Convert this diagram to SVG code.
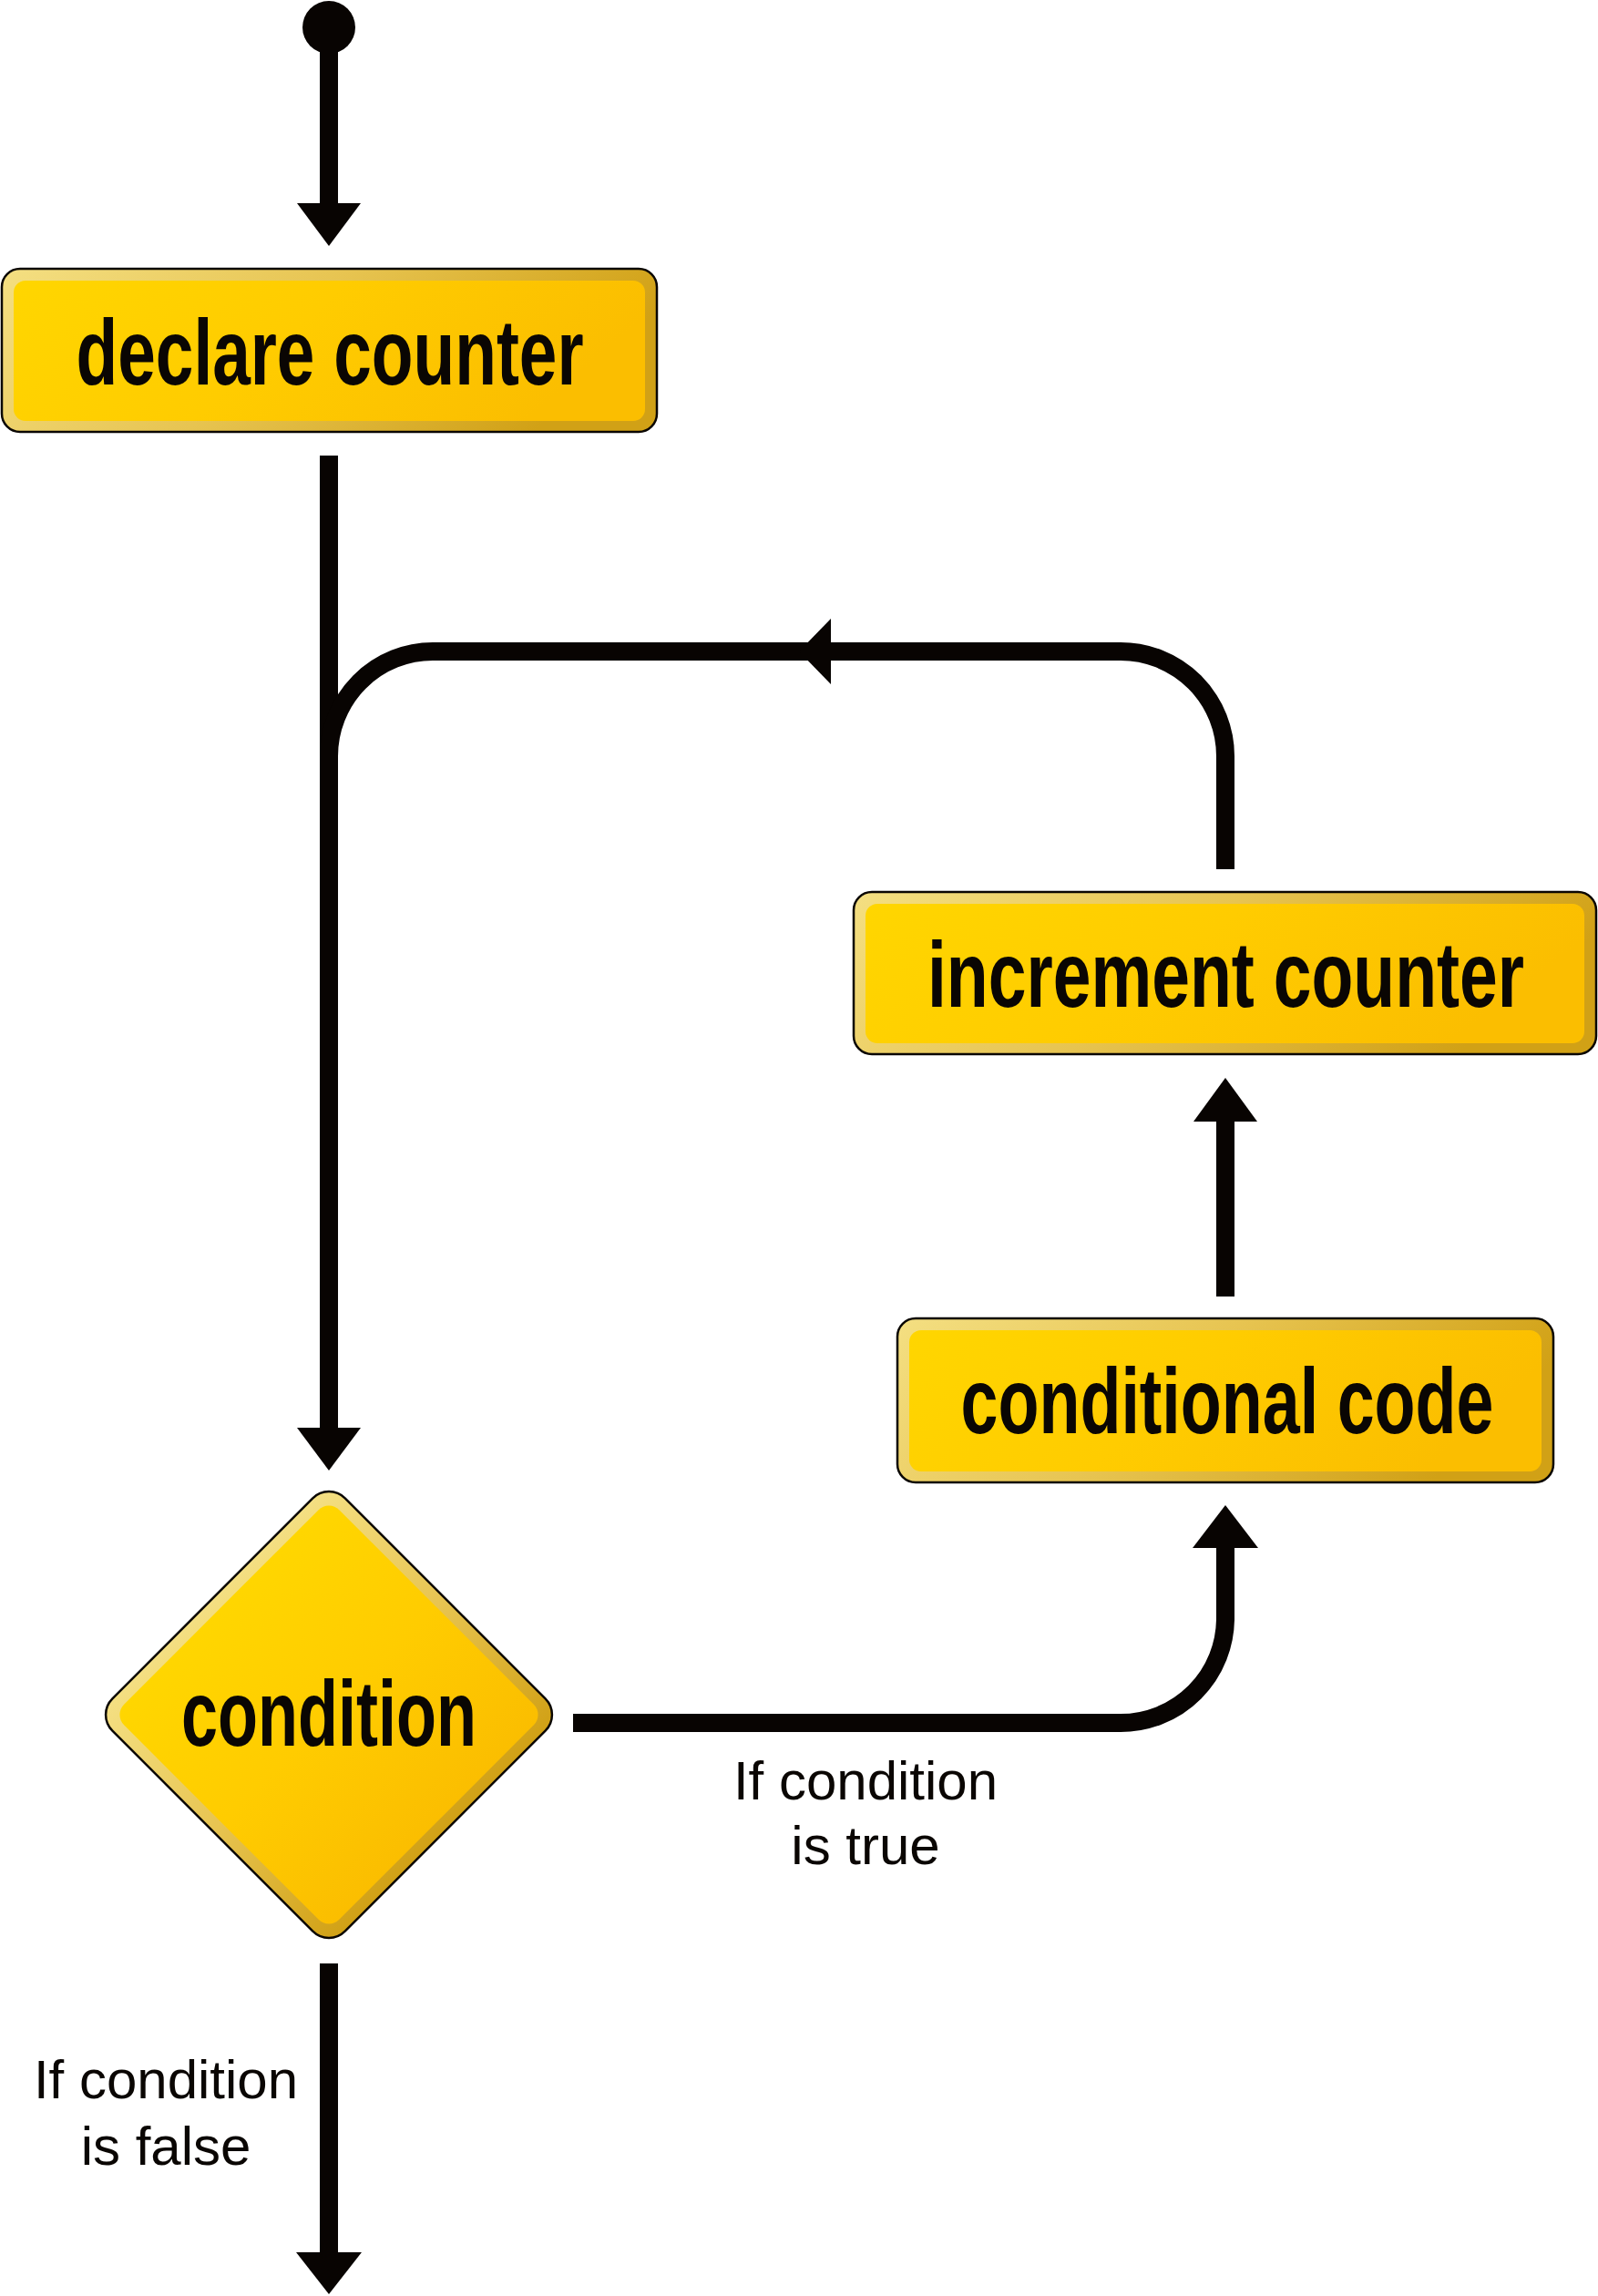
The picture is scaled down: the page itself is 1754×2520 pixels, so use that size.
<svg xmlns="http://www.w3.org/2000/svg" width="1754" height="2520" viewBox="0 0 1754 2520">
  <defs>
    <linearGradient id="bevel" x1="0" y1="0" x2="1" y2="0.25">
      <stop offset="0" stop-color="#F4DF82"/>
      <stop offset="0.5" stop-color="#E7C451"/>
      <stop offset="1" stop-color="#D1A116"/>
    </linearGradient>
    <linearGradient id="face" x1="0" y1="0" x2="1" y2="0.25">
      <stop offset="0" stop-color="#FFD600"/>
      <stop offset="0.5" stop-color="#FFCC00"/>
      <stop offset="1" stop-color="#FBBE00"/>
    </linearGradient>
    <linearGradient id="dbevel" x1="0" y1="0" x2="1" y2="0">
      <stop offset="0" stop-color="#F4DF82"/>
      <stop offset="0.5" stop-color="#E7C451"/>
      <stop offset="1" stop-color="#D1A116"/>
    </linearGradient>
    <linearGradient id="dface" x1="0" y1="0" x2="1" y2="0">
      <stop offset="0" stop-color="#FFD600"/>
      <stop offset="0.5" stop-color="#FFCC00"/>
      <stop offset="1" stop-color="#FBBE00"/>
    </linearGradient>
  </defs>
  <style>
    .outer { fill: url(#bevel); stroke: #0a0603; stroke-width: 2.5; }
    .inner { fill: url(#face); }
    .douter { fill: url(#dbevel); stroke: #0a0603; stroke-width: 2.5; }
    .dinner { fill: url(#dface); }
    .node-text { font-family: "Liberation Sans", "DejaVu Sans", sans-serif; font-weight: bold; font-size: 75px; fill: #0a0603; text-anchor: middle; }
    .label { font-family: "Liberation Sans", Arial, sans-serif; font-size: 60px; fill: #0a0603; text-anchor: middle; }
    .wire { fill: none; stroke: #080402; stroke-width: 20; }
    .head { fill: #080402; }
  </style>
  <rect width="1754" height="2520" fill="#ffffff"/>

  <g id="connectors">
    <circle id="start" cx="361" cy="30" r="29" class="head"/>
    <line class="wire" x1="361" y1="40" x2="361" y2="225"/>
    <polygon class="head" points="326,223 396,223 361,270"/>

    <line class="wire" x1="361" y1="500" x2="361" y2="1569"/>
    <polygon class="head" points="326,1567 396,1567 361,1614"/>

    <path class="wire" d="M629,1891 H1230 A115,115 0 0 0 1345,1776 V1697"/>
    <polygon class="head" points="1309,1699 1381,1699 1345,1652"/>

    <line class="wire" x1="1345" y1="1423" x2="1345" y2="1229"/>
    <polygon class="head" points="1310,1231 1380,1231 1345,1183"/>

    <path class="wire" d="M1345,954 V830 A115,115 0 0 0 1230,715 H475 A114,115 0 0 0 361,830"/>
    <polygon class="head" points="912,679 912,751 877,715"/>

    <line class="wire" x1="361" y1="2155" x2="361" y2="2474"/>
    <polygon class="head" points="325,2472 397,2472 361,2518"/>
  </g>

  <g id="declare-counter">
    <rect class="outer" x="2" y="295" width="719" height="179" rx="20"/>
    <rect class="inner" x="15" y="308" width="693" height="154" rx="13"/>
    <text class="node-text" transform="translate(362,422) scale(1,1.37)" x="0" y="0" textLength="557" lengthAdjust="spacingAndGlyphs">declare counter</text>
  </g>

  <g id="increment-counter">
    <rect class="outer" x="937" y="979" width="815" height="178" rx="20"/>
    <rect class="inner" x="950" y="992" width="789" height="153" rx="13"/>
    <text class="node-text" transform="translate(1345.5,1105) scale(1,1.37)" x="0" y="0" textLength="655" lengthAdjust="spacingAndGlyphs">increment counter</text>
  </g>

  <g id="conditional-code">
    <rect class="outer" x="985" y="1447" width="720" height="180" rx="20"/>
    <rect class="inner" x="998" y="1460" width="694" height="155" rx="13"/>
    <text class="node-text" transform="translate(1347,1573) scale(1,1.37)" x="0" y="0" textLength="585" lengthAdjust="spacingAndGlyphs">conditional code</text>
  </g>

  <g id="condition">
    <g transform="translate(361,1882) rotate(45)">
      <rect class="douter" x="-180.5" y="-180.5" width="361" height="361" rx="25"/>
      <rect class="dinner" x="-167" y="-167" width="334" height="334" rx="16"/>
    </g>
    <text class="node-text" transform="translate(361,1916) scale(1,1.37)" x="0" y="0" textLength="324" lengthAdjust="spacingAndGlyphs">condition</text>
  </g>

  <g id="labels">
    <text class="label" x="950" y="1975">If condition</text>
    <text class="label" x="950" y="2046">is true</text>
    <text class="label" x="182" y="2303">If condition</text>
    <text class="label" x="182" y="2376">is false</text>
  </g>
</svg>
